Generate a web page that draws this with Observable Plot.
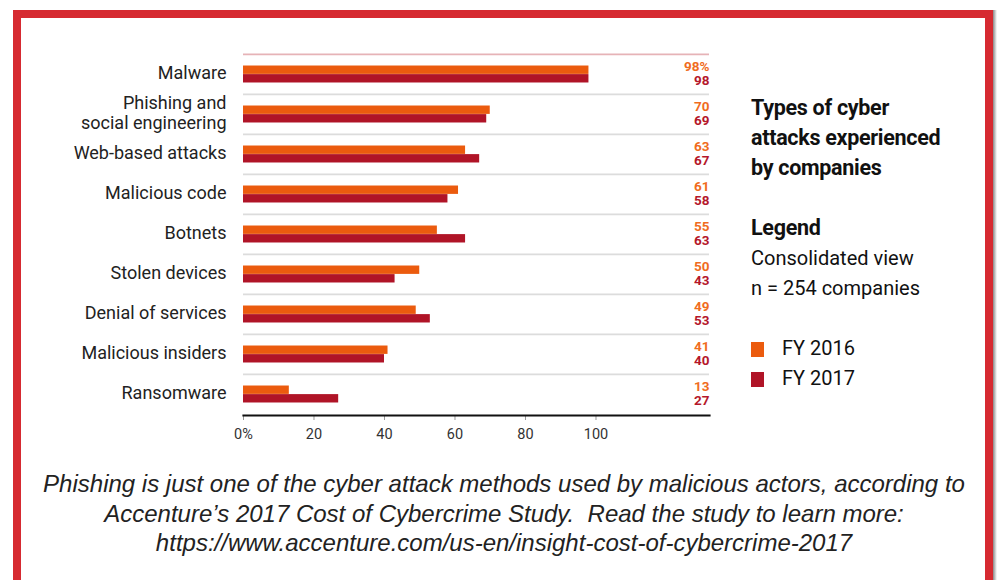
<!DOCTYPE html>
<html>
<head>
<meta charset="utf-8">
<script src="https://cdn.jsdelivr.net/npm/d3@7"></script>
<script src="https://cdn.jsdelivr.net/npm/@observablehq/plot@0.6"></script>
<style>
  html, body { margin: 0; padding: 0; background: #fff; }
  #page { position: relative; width: 997px; height: 580px; overflow: hidden; background: #fff; }
  #frame { position: absolute; left: 13px; top: 10px; width: 964px; height: 600px;
           border: 8px solid #d62a31; border-bottom: none; }
  #shadow { position: absolute; left: 993px; top: 10px; width: 4px; height: 580px;
            background: linear-gradient(to right, #888, #fff); }
  #chart { position: absolute; left: 0; top: 0; }
  #side { position: absolute; left: 751px; top: 93px; font-family: Roboto, sans-serif;
          font-size: 20px; line-height: 30px; color: #111; }
  #side .b { font-weight: 700; font-size: 21.5px; letter-spacing: -0.3px; }
  .sw { display: inline-block; width: 13px; height: 15px; vertical-align: -2px; margin-right: 18px; }
  #caption { position: absolute; left: 0; width: 1008px; top: 469px; text-align: center;
             font-family: "Liberation Sans", Arial, sans-serif; font-style: italic; font-size: 24px;
             line-height: 29.5px; color: #222; }
</style>
</head>
<body>
<div id="page">
  <div id="frame"></div>
  <div id="shadow"></div>
  <div id="chart"></div>
  <div id="side"></div>
  <div id="caption"></div>
</div>
<script>
const categories = ["Malware", "Phishing and\nsocial engineering", "Web-based attacks", "Malicious code",
  "Botnets", "Stolen devices", "Denial of services", "Malicious insiders", "Ransomware"];
const fy2016 = [98, 70, 63, 61, 55, 50, 49, 41, 13];
const fy2017 = [98, 69, 67, 58, 63, 43, 53, 40, 27];
const seriesNames = ["FY 2016", "FY 2017"];
const seriesColors = ["#eb5b0e", "#b01427"];
const labelColors = ["#f06c1e", "#b5172b"];
const xTicks = [0, 20, 40, 60, 80, 100];
const titleLines = ["Types of cyber", "attacks experienced", "by companies"];
const legendLines = ["Consolidated view", "n = 254 companies"];
const captionLines = [
  "Phishing is just one of the cyber attack methods used by malicious actors, according to",
  "Accenture\u2019s 2017 Cost of Cybercrime Study.\u00a0 Read the study to learn more:",
  "https://www.accenture.com/us-en/insight-cost-of-cybercrime-2017"
];

const rows = categories.map((c, i) => ({category: c, v16: fy2016[i], v17: fy2017[i], i}));
const band = (415 - 53) / categories.length;
const barH = 8.6;
const outer = (band - 2 * barH) / 2;

const plot = Plot.plot({
  width: 720,
  height: 450,
  marginLeft: 243,
  marginRight: 11,
  marginTop: 53,
  marginBottom: 35,
  style: {fontFamily: "Roboto, sans-serif", background: "transparent"},
  x: {domain: [0, 132.2]},
  y: {domain: categories, padding: 0},
  marks: [
    Plot.ruleY(rows, {y: "category", dy: -band / 2, stroke: d => d.i === 0 ? "#e6b3b7" : "#dcdcdc", strokeWidth: 1.6}),
    Plot.barX(rows, {y: "category", x: "v16", fill: seriesColors[0], insetTop: outer, insetBottom: outer + barH}),
    Plot.barX(rows, {y: "category", x: "v17", fill: seriesColors[1], insetTop: outer + barH, insetBottom: outer}),
    Plot.text(rows, {y: "category", frameAnchor: "right", text: d => d.i === 0 ? d.v16 + "%" : String(d.v16),
      fill: labelColors[0], fontWeight: 700, fontSize: 13.5, dy: -7.5}),
    Plot.text(rows, {y: "category", frameAnchor: "right", text: d => String(d.v17),
      fill: labelColors[1], fontWeight: 700, fontSize: 13.5, dy: 6.5}),
    Plot.axisY({tickSize: 0, tickPadding: 17, fontSize: 18, lineHeight: 1.12, label: null, fill: "#222", dy: -2}),
    Plot.axisX({ticks: xTicks, tickFormat: d => d === 0 ? "0%" : String(d), tickSize: 5, stroke: "#999",
      tickPadding: 8, fontSize: 14.5, fill: "#333", label: null}),
    Plot.frame({anchor: "bottom", stroke: "#111", strokeWidth: 2.2})
  ]
});
document.getElementById("chart").appendChild(plot);

const side = document.getElementById("side");
let html = titleLines.map(t => `<div class="b">${t}</div>`).join("");
html += `<div>&nbsp;</div><div class="b">Legend</div>`;
html += legendLines.map(t => `<div>${t}</div>`).join("");
html += `<div>&nbsp;</div>`;
html += seriesNames.map((s, i) => `<div><span class="sw" style="background:${seriesColors[i]}"></span>${s}</div>`).join("");
side.innerHTML = html;

document.getElementById("caption").innerHTML = captionLines.map(t => `<div>${t}</div>`).join("");
</script>
</body>
</html>
